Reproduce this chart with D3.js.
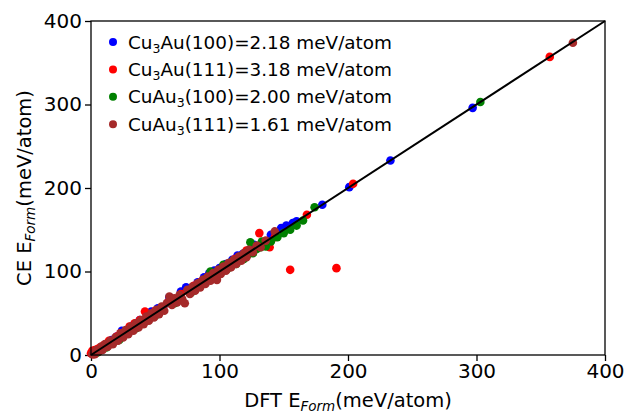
<!DOCTYPE html>
<html>
<head>
<meta charset="utf-8">
<script src="https://cdn.jsdelivr.net/npm/d3@7"></script>
<style>
  body { margin: 0; background: #fff; }
  text { font-family: "DejaVu Sans", sans-serif; fill: #000; }
</style>
</head>
<body>
<div id="chart"></div>
<script>
// set dimensions
const width = 626,
    height = 413,
    margin = { top: 21, right: 21, bottom: 58, left: 91 };

// data: [DFT, CE] in meV/atom
const cu3au100 = [
    [2, 3], [5, 6], [8, 7], [12, 13], [16, 18], [20, 22], [24, 29], [28, 27], [33, 36], [38, 42],
    [42, 41], [47, 52], [52, 56], [56, 57], [61, 69], [65, 66], [70, 76], [74, 81], [78, 79], [83, 87],
    [88, 93], [92, 98], [96, 101], [100, 104], [105, 109], [110, 114], [114, 119], [118, 121], [122, 124],
    [127, 132], [140, 144], [148, 152], [152, 155], [157, 158], [160, 160], [180, 180], [201, 201],
    [233, 233], [297, 296]
];
const cu3au111 = [
    [0, 2], [1, 5], [2, 1], [3, 6], [4, 3], [5, 7], [6, 4], [7, 9], [8, 6], [10, 12], [12, 10], [14, 17],
    [17, 16], [20, 22], [23, 26], [26, 24], [30, 34], [34, 38], [38, 42], [42, 52], [45, 48], [50, 53],
    [55, 57], [60, 63], [65, 64], [70, 73], [75, 77], [80, 83], [85, 87], [90, 92], [95, 94], [100, 102],
    [104, 103], [108, 110], [112, 115], [117, 116], [121, 125], [126, 125], [131, 146], [139, 129],
    [143, 141], [155, 102], [191, 104], [168, 168], [204, 205], [357, 357]
];
const cuau3100 = [
    [5, 3], [12, 9], [22, 18], [35, 32], [50, 47], [65, 62], [78, 75], [88, 90], [93, 100], [96, 97],
    [100, 102], [103, 108], [106, 103], [110, 112], [113, 109], [116, 118], [119, 115], [122, 120],
    [124, 135], [126, 122], [129, 127], [133, 136], [132, 129], [136, 130], [140, 136], [145, 141],
    [150, 146], [155, 150], [160, 155], [165, 161], [174, 177], [303, 303]
];
const cuau3111 = [
    [1, 1], [3, 1], [4, 6], [6, 5], [8, 10], [9, 6], [11, 13], [13, 10], [15, 17], [17, 13], [19, 21],
    [21, 17], [23, 26], [25, 21], [27, 30], [29, 25], [31, 34], [33, 29], [35, 38], [37, 33], [39, 42],
    [41, 37], [43, 46], [45, 41], [47, 50], [49, 45], [51, 54], [53, 49], [55, 58], [57, 53], [59, 62],
    [61, 70], [63, 60], [65, 68], [67, 63], [69, 72], [71, 67], [73, 62], [75, 78], [77, 73], [79, 82],
    [81, 77], [83, 86], [85, 81], [87, 90], [89, 85], [91, 94], [93, 89], [98, 90], [95, 98], [97, 93],
    [99, 102], [101, 97], [103, 106], [105, 101], [107, 110], [109, 105], [111, 114], [113, 109],
    [115, 118], [117, 113], [119, 122], [121, 117], [123, 126], [126, 123], [129, 131], [132, 129],
    [136, 137], [143, 148], [375, 374]
];

const seriesNames = ["Cu3Au(100)", "Cu3Au(111)", "CuAu3(100)", "CuAu3(111)"];
const seriesRmse = ["2.18", "3.18", "2.00", "1.61"];
const seriesColors = ["#0000ff", "#ff0000", "#008000", "#a52a2a"];
const seriesData = [cu3au100, cu3au111, cuau3100, cuau3111];
const ticks = [0, 100, 200, 300, 400];
const diagonal = [[0, 0], [400, 400]];

// create svg
const svg = d3.select("#chart")
    .append("svg")
    .attr("width", width)
    .attr("height", height);

// create scales
const xScale = d3.scaleLinear()
    .domain([0, 400])
    .range([margin.left, width - margin.right]);
const yScale = d3.scaleLinear()
    .domain([0, 400])
    .range([height - margin.bottom, margin.top]);

// axes
const xAxis = d3.axisBottom(xScale).tickValues(ticks).tickSize(6).tickPadding(3);
const yAxis = d3.axisLeft(yScale).tickValues(ticks).tickSize(6).tickPadding(3);

const gx = svg.append("g")
    .attr("transform", `translate(0, ${height - margin.bottom})`)
    .call(xAxis);
const gy = svg.append("g")
    .attr("transform", `translate(${margin.left}, 0)`)
    .call(yAxis);
[gx, gy].forEach(g => {
    g.select(".domain").remove();
    g.selectAll("line").attr("stroke", "#000").attr("stroke-width", 1.3);
    g.selectAll("text").style("font-size", "20px").attr("fill", "#000");
});

// points
seriesData.forEach((data, i) => {
    svg.append("g")
        .selectAll("circle")
        .data(data)
        .enter()
        .append("circle")
        .attr("cx", d => xScale(d[0]))
        .attr("cy", d => yScale(d[1]))
        .attr("r", 4.3)
        .attr("fill", seriesColors[i]);
});

// y = x line
svg.append("path")
    .datum(diagonal)
    .attr("d", d3.line().x(d => xScale(d[0])).y(d => yScale(d[1])))
    .attr("stroke", "#000")
    .attr("stroke-width", 2)
    .attr("fill", "none");

// frame
svg.append("rect")
    .attr("x", xScale(0))
    .attr("y", yScale(400))
    .attr("width", xScale(400) - xScale(0))
    .attr("height", yScale(0) - yScale(400))
    .attr("fill", "none")
    .attr("stroke", "#000")
    .attr("stroke-width", 1.3);

// legend
const legend = svg.append("g");
seriesNames.forEach((name, i) => {
    const y = 42 + i * 27.4;
    legend.append("circle")
        .attr("cx", 113)
        .attr("cy", y)
        .attr("r", 4)
        .attr("fill", seriesColors[i]);
    const t = legend.append("text")
        .attr("x", 128)
        .attr("y", y + 6.5)
        .style("font-size", "18.4px");
    const parts = name.split("3");
    t.append("tspan").text(parts[0]);
    t.append("tspan").attr("dy", 4).style("font-size", "12.5px").text("3");
    t.append("tspan").attr("dy", -4).text(parts[1] + "=" + seriesRmse[i] + " meV/atom");
});

// axis labels
const xl = svg.append("text")
    .attr("x", (xScale(0) + xScale(400)) / 2)
    .attr("y", 407)
    .attr("text-anchor", "middle")
    .style("font-size", "19.5px");
xl.append("tspan").text("DFT E");
xl.append("tspan").attr("dy", 4).style("font-size", "13.5px").style("font-style", "italic").text("Form");
xl.append("tspan").attr("dy", -4).text("(meV/atom)");

const yl = svg.append("text")
    .attr("transform", `translate(31, ${(yScale(0) + yScale(400)) / 2}) rotate(-90)`)
    .attr("text-anchor", "middle")
    .style("font-size", "19.5px");
yl.append("tspan").text("CE E");
yl.append("tspan").attr("dy", 4).style("font-size", "13.5px").style("font-style", "italic").text("Form");
yl.append("tspan").attr("dy", -4).text("(meV/atom)");
</script>
</body>
</html>
